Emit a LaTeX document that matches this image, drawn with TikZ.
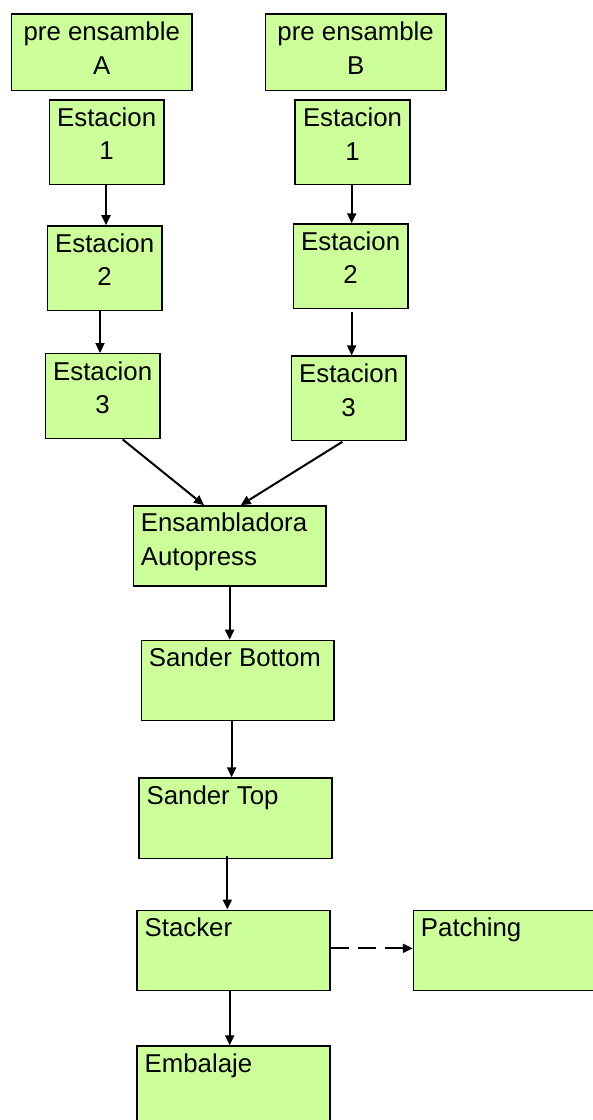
\documentclass[tikz,border=0pt]{standalone}
\usepackage{fontspec}
\setmainfont{Liberation Sans}
\usetikzlibrary{arrows.meta,calc}
\definecolor{boxgreen}{HTML}{CCFF99}
\tikzset{
  box/.style={draw=black, line width=1.4pt, fill=boxgreen, inner sep=0pt},
  prebox/.style={box, minimum width=180.5pt, minimum height=76.5pt},
  stbox/.style={box, minimum width=114.7pt, minimum height=84.5pt},
  wbox/.style={box, minimum width=192.7pt, minimum height=80.2pt},
  txt/.style={inner sep=0pt, font=\fontsize{25.8}{34}\selectfont},
  ctxt/.style={txt, anchor=base},
  ltxt/.style={txt, anchor=base west},
  flow/.style={line width=2pt, -{Triangle[length=10pt,width=9pt]}},
}
\begin{document}
\begin{tikzpicture}[x=1pt,y=-1pt]
\useasboundingbox (0,0) rectangle (593,1120);

% upper branch boxes
\node[prebox] (preA) at (101.75,52.25) {};
\node[prebox] (preB) at (355.65,52.25) {};
\node[stbox] (e1a) at (106.65,142.15) {};
\node[stbox] (e1b) at (352.5,142.25) {};
\node[stbox] (e2a) at (104.65,268.15) {};
\node[stbox] (e2b) at (350.65,266.2) {};
\node[stbox] (e3a) at (102.65,396) {};
\node[stbox] (e3b) at (348.65,398.35) {};

% main line boxes
\node[wbox] (ens) at (229.65,546) {};
\node[wbox] (sb) at (237.65,680.5) {};
\node[wbox] (st) at (235.5,818.15) {};
\node[wbox] (stk) at (233.5,950.3) {};
\node[wbox] (pat) at (509.8,950.3) {};
\node[wbox] (emb) at (233.5,1086.1) {};

% centred labels
\node[ctxt] (preAa) at ($(preA.north)+(0,26.7)$) {pre ensamble};
\node[ctxt] (preAb) at ($(preA.north)+(0,61.3)$) {A};
\node[ctxt] (preBa) at ($(preB.north)+(0,26.7)$) {pre ensamble};
\node[ctxt] (preBb) at ($(preB.north)+(0,61.3)$) {B};
\foreach \n/\k in {e1a/1,e1b/1,e2a/2,e2b/2,e3a/3,e3b/3}{
  \node[ctxt] (\n t1) at ($(\n.north)+(0,27.3)$) {Estacion};
  \node[ctxt] (\n t2) at ($(\n.north)+(0,60.7)$) {\k};
}

% left-aligned labels
\node[ltxt] (ensa) at ($(ens.north west)+(8,26.7)$) {Ensambladora};
\node[ltxt] (ensb) at ($(ens.north west)+(8,60.7)$) {Autopress};
\node[ltxt] (sbt) at ($(sb.north west)+(8,27)$) {Sander Bottom};
\node[ltxt] (stt) at ($(st.north west)+(8,27)$) {Sander Top};
\node[ltxt] (stkt) at ($(stk.north west)+(8,27)$) {Stacker};
\node[ltxt] (patt) at ($(pat.north west)+(8,27)$) {Patching};
\node[ltxt] (embt) at ($(emb.north west)+(8,26.7)$) {Embalaje};

% connector end points
\coordinate (s1a) at ($(e1a.south)+(-0.65,0)$);
\coordinate (s2a) at ($(e2a.south)+(-4.65,0)$);
\coordinate (s1b) at ($(e1b.south)+(-0.8,0)$);
\coordinate (s2b) at ($(e2b.south)+(1,3)$);
\coordinate (s3a) at ($(e3a.south)+(20,0.5)$);
\coordinate (t3a) at ($(ens.north)+(-25.6,0)$);
\coordinate (s3b) at ($(e3b.south)+(-6.3,0.5)$);
\coordinate (t3b) at ($(ens.north)+(11,0)$);
\coordinate (ssb) at ($(sb.south)+(-6,0)$);
\coordinate (sst) at ($(st.south)+(-8.2,-3)$);
\coordinate (sstk) at ($(stk.south)+(-3.8,0)$);
\coordinate (sdash) at ($(stk.east)+(0,-2)$);

% connectors
\draw[flow] (s1a) -- (s1a |- e2a.north);
\draw[flow] (s2a) -- (s2a |- e3a.north);
\draw[flow] (s1b) -- (s1b |- e2b.north);
\draw[flow] (s2b) -- (s2b |- e3b.north);
\draw[flow] (s3a) -- (t3a);
\draw[flow] (s3b) -- (t3b);
\draw[flow] (ens.south) -- (ens.south |- sb.north);
\draw[flow] (ssb) -- (ssb |- st.north);
\draw[flow] (sst) -- (sst |- stk.north);
\draw[flow] (sstk) -- (sstk |- emb.north);
\draw[flow, dash pattern=on 18pt off 9pt] (sdash) -- (sdash -| pat.west);
\end{tikzpicture}
\end{document}
